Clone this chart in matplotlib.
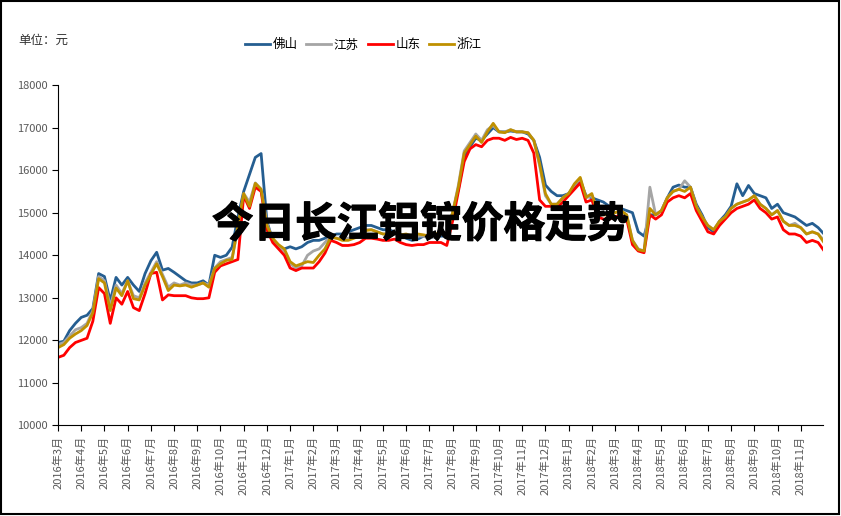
import numpy as np
import matplotlib
matplotlib.use("Agg")
import matplotlib.pyplot as plt
import matplotlib.patheffects as pe
from matplotlib.patches import Rectangle

plt.rcParams['font.family'] = ['Noto Sans CJK SC', 'DejaVu Sans']

# month tick labels (category axis, one tick per month)
months = [f"{y}年{m}月" for y in (2016, 2017, 2018) for m in range(1, 13)][2:35]

# weekly-ish readings (4 per month), from 2016-03 to end of 2018-11
foshan = [11950, 11980, 12230, 12400, 12540, 12590, 12750, 13570,
          13500, 12930, 13480, 13300, 13480, 13300, 13150, 13570,
          13870, 14070, 13650, 13690, 13600, 13500, 13400, 13350,
          13350, 13400, 13300, 14000, 13950, 14000, 14190, 14900,
          15500, 15900, 16300, 16390, 14800, 14350, 14200, 14150,
          14200, 14150, 14200, 14300, 14350, 14350, 14400, 14450,
          14500, 14500, 14550, 14600, 14650, 14700, 14700, 14650,
          14600, 14600, 14550, 14500, 14400, 14350, 14380, 14450,
          14400, 14450, 14450, 14450, 15000, 15550, 16300, 16550,
          16750, 16700, 16850, 17000, 16900, 16900, 16920, 16900,
          16900, 16850, 16700, 16300, 15650, 15500, 15400, 15400,
          15450, 15600, 15750, 15400, 15350, 15300, 15250, 15150,
          15100, 15100, 15050, 15000, 14550, 14450, 14950, 14950,
          15050, 15350, 15600, 15650, 15600, 15600, 15200, 14950,
          14650, 14550, 14800, 14950, 15150, 15680, 15400, 15640,
          15450, 15400, 15350, 15100, 15200, 15000, 14950, 14900,
          14800, 14700, 14750, 14650, 14500]
jiangsu = [11900, 11950, 12100, 12250, 12300, 12400, 12700, 13500,
           13400, 12800, 13300, 13100, 13400, 13050, 13000, 13350,
           13600, 13850, 13550, 13250, 13350, 13300, 13350, 13300,
           13300, 13350, 13300, 13700, 13850, 13900, 13950, 14600,
           15450, 15250, 15700, 15550, 14750, 14350, 14200, 14100,
           13800, 13700, 13750, 14000, 14100, 14150, 14300, 14450,
           14400, 14400, 14400, 14450, 14500, 14600, 14600, 14550,
           14500, 14500, 14500, 14480, 14450, 14400, 14450, 14450,
           14400, 14450, 14500, 14450, 15000, 15650, 16450, 16650,
           16850, 16700, 16950, 17050, 16900, 16900, 16950, 16900,
           16900, 16880, 16700, 16100, 15400, 15200, 15200, 15350,
           15450, 15650, 15800, 15350, 15400, 14950, 14950, 14950,
           15000, 15050, 14950, 14350, 14150, 14100, 15600, 14950,
           15050, 15350, 15500, 15550, 15750, 15600, 15150, 14900,
           14700, 14600, 14800, 14900, 15100, 15200, 15250, 15300,
           15400, 15200, 15100, 14950, 15050, 14800, 14700, 14750,
           14650, 14500, 14550, 14500, 14350]
shandong = [11600, 11650, 11830, 11950, 12000, 12050, 12450, 13240,
            13100, 12400, 13000, 12850, 13150, 12770, 12700, 13100,
            13570, 13600, 12950, 13070, 13050, 13050, 13050, 13000,
            12980, 12980, 13000, 13600, 13750, 13800, 13850, 13900,
            15400, 15100, 15600, 15500, 14600, 14300, 14150, 14000,
            13700, 13640, 13700, 13700, 13700, 13850, 14050, 14350,
            14300, 14230, 14230, 14250, 14300, 14400, 14400, 14380,
            14350, 14350, 14380, 14300, 14250, 14230, 14250, 14250,
            14300, 14300, 14300, 14230, 14800, 15500, 16200, 16500,
            16600, 16550, 16700, 16750, 16750, 16700, 16770, 16720,
            16750, 16700, 16400, 15300, 15150, 15150, 15120, 15250,
            15400, 15550, 15700, 15250, 15300, 14900, 14850, 14850,
            14900, 14950, 14850, 14250, 14100, 14060, 14950, 14850,
            14950, 15250, 15350, 15400, 15350, 15450, 15050, 14800,
            14550, 14500, 14700, 14850, 15000, 15100, 15150, 15200,
            15300, 15100, 15000, 14850, 14900, 14600, 14500, 14500,
            14450, 14300, 14350, 14300, 14110]
zhejiang = [11830, 11900, 12050, 12150, 12230, 12350, 12650, 13450,
            13350, 12700, 13230, 13050, 13400, 12980, 12950, 13300,
            13550, 13800, 13500, 13170, 13300, 13280, 13300, 13250,
            13300, 13350, 13250, 13690, 13800, 13880, 13900, 14700,
            15450, 15150, 15690, 15550, 14700, 14400, 14250, 14150,
            13850, 13750, 13800, 13850, 13830, 14000, 14150, 14420,
            14400, 14350, 14350, 14400, 14450, 14580, 14600, 14550,
            14500, 14500, 14520, 14480, 14500, 14450, 14500, 14480,
            14450, 14500, 14530, 14500, 15000, 15600, 16400, 16600,
            16800, 16650, 16900, 17100, 16900, 16880, 16950, 16900,
            16900, 16880, 16700, 16150, 15450, 15200, 15200, 15350,
            15450, 15680, 15830, 15360, 15450, 15000, 14950, 14950,
            15000, 15050, 14950, 14350, 14130, 14100, 15100, 14950,
            15050, 15350, 15500, 15550, 15500, 15600, 15150, 14900,
            14700, 14600, 14800, 14900, 15100, 15200, 15250, 15300,
            15400, 15200, 15100, 14950, 15050, 14800, 14700, 14700,
            14650, 14500, 14550, 14500, 14300]

series = [('佛山', foshan, '#255E91'),
          ('江苏', jiangsu, '#A5A5A5'),
          ('山东', shandong, '#FF0000'),
          ('浙江', zhejiang, '#BF9000')]

fig = plt.figure(figsize=(8.41, 5.16), dpi=100)
ax = fig.add_axes([0.069, 0.1754, 0.9096, 0.6598])

x = np.arange(len(foshan)) / 4.0
for name, vals, col in series:
    ax.plot(x, vals, color=col, linewidth=2.0, label=name)

ax.set_xlim(0, 32.96)
ax.set_ylim(10000, 18000)
ax.set_yticks(range(10000, 18001, 1000))
ax.set_xticks(range(len(months)))
ax.set_xticklabels(months, rotation=90, fontsize=8, color='#595959')
ax.tick_params(axis='y', labelsize=8, labelcolor='#595959', length=4)
ax.tick_params(axis='x', length=4)
ax.spines['top'].set_visible(False)
ax.spines['right'].set_visible(False)

fig.legend(loc='center', bbox_to_anchor=(0.432, 0.913), ncol=4, frameon=False,
           fontsize=9, handlelength=2.0, handletextpad=0.2, columnspacing=0.7)
fig.text(18 / 841, 1 - 40 / 516, '单位：元', fontsize=9, va='center', color='#333333')

# heavy overlay title
fig.text(420 / 841, 1 - 225 / 516, '今日长江铝锭价格走势', ha='center', va='center',
         fontsize=30, fontweight='black', color='black',
         path_effects=[pe.withStroke(linewidth=0.9, foreground='black')])

fig.add_artist(Rectangle((0.0012, 0.003), 0.997, 0.995, transform=fig.transFigure,
                         fill=False, edgecolor='black', linewidth=1.5))

fig.savefig('out.png', dpi=100)
